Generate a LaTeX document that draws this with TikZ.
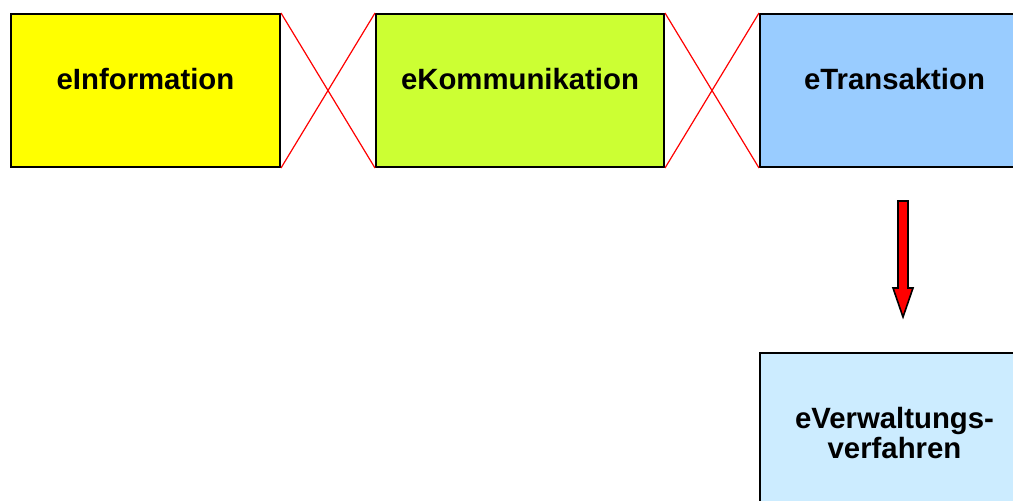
\documentclass[tikz,border=0pt]{standalone}
\usepackage{fontspec}
\setmainfont{Liberation Sans}

\definecolor{infoyellow}{RGB}{255,255,0}
\definecolor{kommgreen}{RGB}{204,255,51}
\definecolor{transblue}{RGB}{153,204,255}
\definecolor{verfblue}{RGB}{204,236,255}

\tikzset{every picture/.style={line width=0.75pt}}
\tikzset{
  stage/.style={draw=black, line width=1.5pt, anchor=north west, inner sep=0pt,
    align=center, text height=56.5pt, text depth=58.25pt,
    minimum height=114.75pt, font=\fontsize{22}{22.5}\selectfont\bfseries},
  cross/.style={draw={rgb, 255:red, 255; green, 0; blue, 0}, line width=0.9pt},
  blockarrow/.style={draw=black, fill={rgb, 255:red, 255; green, 0; blue, 0}, line width=1.2pt, line join=miter}
}

\begin{document}
\begin{tikzpicture}[x=0.75pt,y=0.75pt,yscale=-1,xscale=1]
        \useasboundingbox (0,0) rectangle (1013,500);
        \clip (0,0) rectangle (1013,500);

        %Shape: Rectangle [id:info]
        \node [stage, fill=infoyellow, minimum width=201.75pt] (info) at (10,13) {eInformation};
        %Shape: Rectangle [id:komm]
        \node [stage, fill=kommgreen, minimum width=216pt] (komm) at (375,13) {eKommunikation};
        %Shape: Rectangle [id:trans]
        \node [stage, fill=transblue, minimum width=201.75pt] (trans) at (759,13) {eTransaktion};
        %Shape: Rectangle [id:verf]
        \node [stage, fill=verfblue, minimum width=201.75pt, text height=79pt, text depth=35.75pt] (verf) at (759,352) {eVerwaltungs-\\verfahren};

        %Straight Lines [id:cross1]
        \draw [cross] (info.north east) -- (komm.south west) ;
        \draw [cross] (info.south east) -- (komm.north west) ;
        %Straight Lines [id:cross2]
        \draw [cross] (komm.north east) -- (trans.south west) ;
        \draw [cross] (komm.south east) -- (trans.north west) ;

        %Shape: Down Arrow [id:arrow]
        \coordinate (atop) at (903,201) ;
        \draw [blockarrow] (atop) -- ++(5,0) -- ++(0,87) -- ++(5,0) -- ++(-10,29) coordinate (atip) -- ++(-10,-29) -- ++(5,0) -- ++(0,-87) -- cycle ;

\end{tikzpicture}
\end{document}
